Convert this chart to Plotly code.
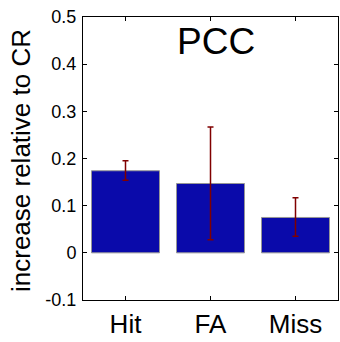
import plotly.graph_objects as go

categories = ["Hit", "FA", "Miss"]
values = [0.174, 0.147, 0.075]
err_plus = [0.021, 0.120, 0.042]
err_minus = [0.020, 0.119, 0.040]
y_ticks = [-0.1, 0, 0.1, 0.2, 0.3, 0.4, 0.5]
y_tick_labels = ["-0.1", "0", "0.1", "0.2", "0.3", "0.4", "0.5"]

W, H = 340, 342
L, R, T, B = 83, 2, 17, 42

fig = go.Figure()
fig.add_trace(go.Bar(
    x=categories, y=values, width=0.8,
    marker=dict(color="rgb(10,10,170)", line=dict(color="rgb(150,150,150)", width=1)),
    error_y=dict(type="data", array=err_plus, arrayminus=err_minus, symmetric=False,
                 color="rgb(128,0,0)", thickness=1.5, width=3),
))

fig.update_layout(
    width=W, height=H,
    margin=dict(l=L, r=R, t=T, b=B, pad=0, autoexpand=False),
    paper_bgcolor="white", plot_bgcolor="white",
    showlegend=False,
    font=dict(family="Liberation Sans, Arial, sans-serif", color="black"),
    xaxis=dict(type="category", range=[-0.5, 2.5], showline=True, linecolor="black", linewidth=1,
               mirror="ticks", ticks="inside", ticklen=4, tickcolor="black",
               tickfont=dict(size=26), showgrid=False, zeroline=False, automargin=False,
               ticklabelstandoff=1),
    yaxis=dict(range=[-0.1, 0.5], tickvals=y_ticks, ticktext=y_tick_labels,
               showline=True, linecolor="black", linewidth=1, mirror="ticks",
               ticks="inside", ticklen=4, tickcolor="black", tickfont=dict(size=18),
               showgrid=False, zeroline=False, ticklabelstandoff=2, automargin=False),
    annotations=[
        dict(text="PCC", x=(215.6 - L) / (W - L - R), y=1 - (42 - T) / (H - T - B),
             xref="paper", yref="paper", showarrow=False, font=dict(size=37),
             xanchor="center", yanchor="middle"),
        dict(text="increase relative to CR", textangle=-90,
             x=(21 - L) / (W - L - R), y=1 - (161 - T) / (H - T - B),
             xref="paper", yref="paper", showarrow=False, font=dict(size=26),
             xanchor="center", yanchor="middle"),
    ],
)

fig.write_html("out.html", config={"displayModeBar": False, "staticPlot": True},
               post_script="document.body.style.margin='0';document.body.style.padding='0';document.body.style.overflow='hidden';")
